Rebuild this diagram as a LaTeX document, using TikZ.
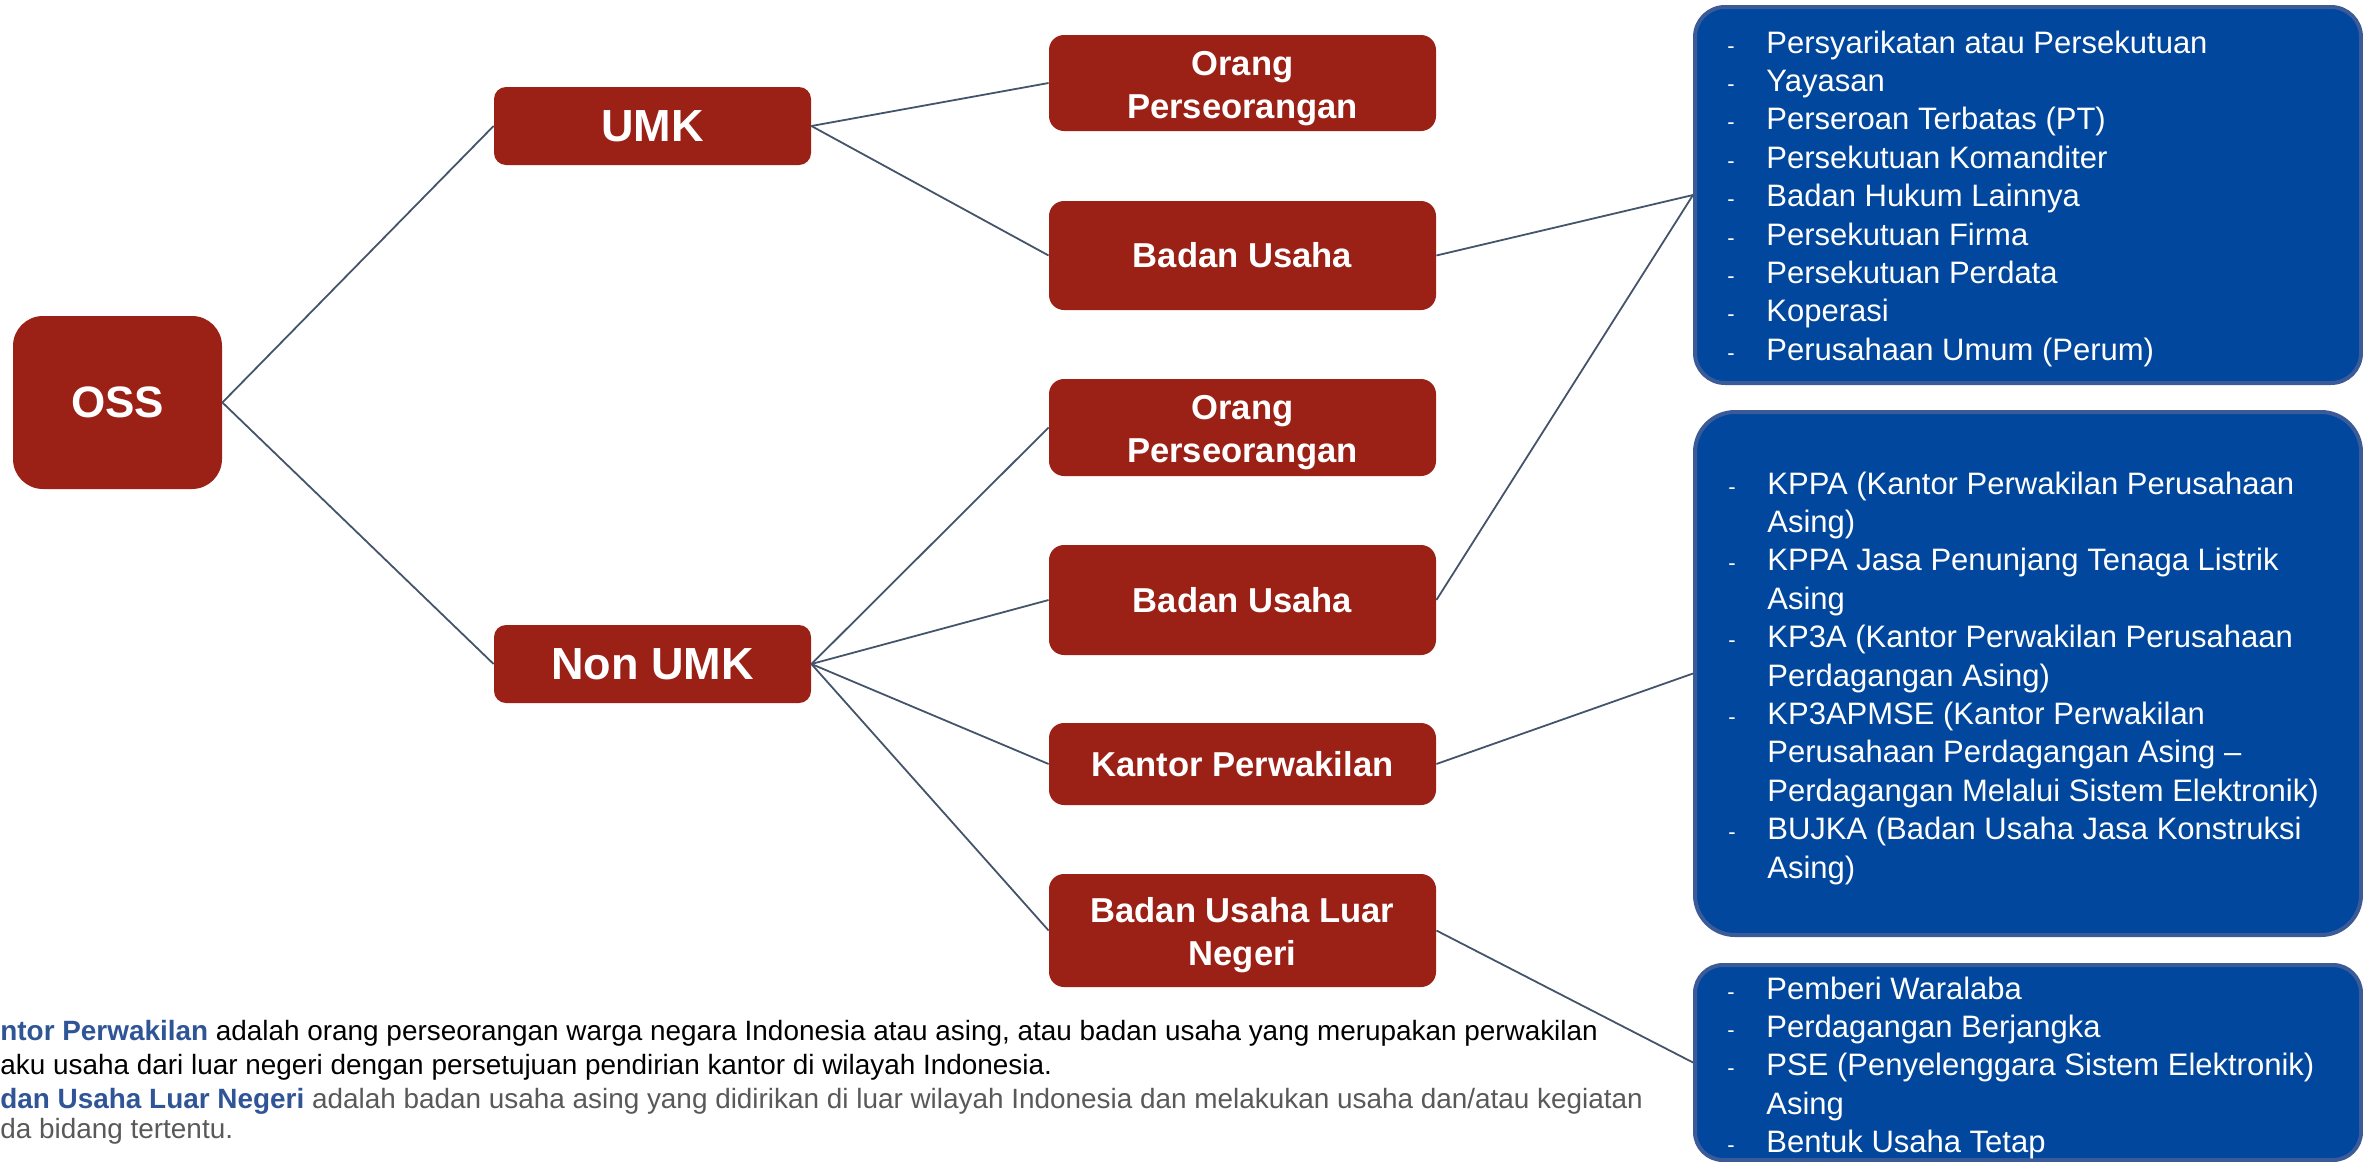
\documentclass[tikz,border=0pt]{standalone}
\usepackage{fontspec}
\setmainfont{Liberation Sans}
\definecolor{ossred}{RGB}{155,32,22}
\definecolor{listblue}{RGB}{0,71,157}
\definecolor{listborder}{RGB}{58,90,152}
\definecolor{linkcol}{RGB}{68,84,106}
\definecolor{defblue}{RGB}{47,85,151}
\definecolor{defgray}{RGB}{89,89,89}
\newcommand\dl[1]{\makebox[19.5pt][l]{\fontsize{11pt}{11pt}\selectfont -}#1\par}
\newcommand\cl[1]{\hspace*{19.5pt}#1\par}
\newcommand\lowstrut{\rule{0pt}{17.5pt}}
\tikzset{
  redbox/.style={fill=ossred, text=white, font=\bfseries\fontsize{17.3pt}{21.5pt}\selectfont,
    align=center, inner sep=0pt, rounded corners=7.5pt, minimum width=193.5pt},
  bigred/.style={fill=ossred, text=white, font=\bfseries\fontsize{22.5pt}{27pt}\selectfont,
    align=center, inner sep=0pt, rounded corners=6pt, minimum width=158.5pt, minimum height=39pt},
  bluebox/.style={fill=listblue, draw=listborder, line width=2pt, inner sep=0pt, minimum width=333pt},
  link/.style={draw=linkcol, line width=0.9pt},
  listtext/.style={anchor=base west, inner sep=0pt, text=white, align=left,
    font=\fontsize{15.5pt}{19.2pt}\selectfont},
  deftext/.style={anchor=base west, inner sep=0pt, font=\fontsize{13.95pt}{16pt}\selectfont},
}
\begin{document}
\begin{tikzpicture}[x=0.5pt, y=-0.5pt]
\clip (0,0) rectangle (2363,1162);
\useasboundingbox (0,0) rectangle (2363,1162);

% main nodes
\node[fill=ossred, text=white, font=\bfseries\fontsize{22pt}{26pt}\selectfont, inner sep=0pt,
  rounded corners=15pt, minimum width=104.5pt, minimum height=86.5pt] (oss) at (117.5,402.5) {OSS};
\node[bigred] (umk) at (652.5,126) {UMK};
\node[bigred] (nonumk) at (652.5,664) {Non UMK};

\node[redbox, minimum height=48pt] (op1) at (1242.5,83) {\lowstrut Orang\\Perseorangan};
\node[redbox, minimum height=54.5pt] (bu1) at (1242.5,255.5) {Badan Usaha};
\node[redbox, minimum height=48.5pt] (op2) at (1242.5,427.5) {\lowstrut Orang\\Perseorangan};
\node[redbox, minimum height=55pt] (bu2) at (1242.5,600) {Badan Usaha};
\node[redbox, minimum height=41pt] (kp) at (1242.5,764) {Kantor Perwakilan};
\node[redbox, minimum height=56.5pt] (buln) at (1242.5,930.5) {\lowstrut Badan Usaha Luar\\Negeri};

% blue list boxes
\node[bluebox, minimum height=188pt, rounded corners=15pt] (box1) at (2028,195) {};
\node[bluebox, minimum height=261.5pt, rounded corners=20pt] (box2) at (2028,673.5) {};
\node[bluebox, minimum height=97.5pt, rounded corners=14pt] (box3) at (2028,1062.5) {};

\node[listtext] (list1) at (1727,53) {\parbox[t]{320pt}{%
\dl{Persyarikatan atau Persekutuan}
\dl{Yayasan}
\dl{Perseroan Terbatas (PT)}
\dl{Persekutuan Komanditer}
\dl{Badan Hukum Lainnya}
\dl{Persekutuan Firma}
\dl{Persekutuan Perdata}
\dl{Koperasi}
\dl{Perusahaan Umum (Perum)}}};

\node[listtext] (list2) at (1728,494) {\parbox[t]{320pt}{%
\dl{KPPA (Kantor Perwakilan Perusahaan}
\cl{Asing)}
\dl{KPPA Jasa Penunjang Tenaga Listrik}
\cl{Asing}
\dl{KP3A (Kantor Perwakilan Perusahaan}
\cl{Perdagangan Asing)}
\dl{KP3APMSE (Kantor Perwakilan}
\cl{Perusahaan Perdagangan Asing –}
\cl{Perdagangan Melalui Sistem Elektronik)}
\dl{BUJKA (Badan Usaha Jasa Konstruksi}
\cl{Asing)}}};

\node[listtext] (list3) at (1727,999) {\parbox[t]{320pt}{%
\dl{Pemberi Waralaba}
\dl{Perdagangan Berjangka}
\dl{PSE (Penyelenggara Sistem Elektronik)}
\cl{Asing}
\dl{Bentuk Usaha Tetap}}};

% connectors
\draw[link] (oss.east) -- (umk.west);
\draw[link] (oss.east) -- (nonumk.west);
\draw[link] (umk.east) -- (op1.west);
\draw[link] (umk.east) -- (bu1.west);
\draw[link] (nonumk.east) -- (op2.west);
\draw[link] (nonumk.east) -- (bu2.west);
\draw[link] (nonumk.east) -- (kp.west);
\draw[link] (nonumk.east) -- (buln.west);
\draw[link] (bu1.east) -- (box1.west);
\draw[link] (bu2.east) -- (box1.west);
\draw[link] (kp.east) -- (box2.west);
\draw[link] (buln.east) -- (box3.west);

% definitions at the bottom
\node[deftext] (def1) at (0,1040) {\textcolor{defblue}{\bfseries ntor Perwakilan} adalah orang perseorangan warga negara Indonesia atau asing, atau badan usaha yang merupakan perwakilan};
\node[deftext] (def2) at (0,1074) {aku usaha dari luar negeri dengan persetujuan pendirian kantor di wilayah Indonesia.};
\node[deftext, text=defgray] (def3) at (0,1108) {\textcolor{defblue}{\bfseries dan Usaha Luar Negeri} adalah badan usaha asing yang didirikan di luar wilayah Indonesia dan melakukan usaha dan/atau kegiatan};
\node[deftext, text=defgray] (def4) at (0,1138) {da bidang tertentu.};
\end{tikzpicture}
\end{document}
